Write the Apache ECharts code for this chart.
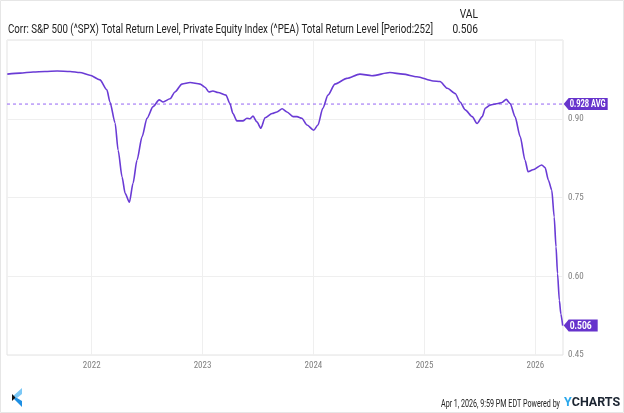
<!DOCTYPE html>
<html><head><meta charset="utf-8">
<script src="https://cdn.jsdelivr.net/npm/echarts@6/dist/echarts.min.js"></script>
<style>html,body{margin:0;padding:0;background:#fff}#c{width:624px;height:413px}</style>
</head><body><div id="c"></div>
<script>
const titleText = 'Corr: S&P 500 (^SPX) Total Return Level, Private Equity Index (^PEA) Total Return Level [Period:252]';
const valHeader = 'VAL';
const valText = '0.506';
const avgValue = 0.928;
const avgLabel = '0.928 AVG';
const footerText = 'Apr 1, 2026, 9:59 PM EDT Powered by';
const xMin = '2021-03-28';
const xMax = '2026-04-02';
const yMin = 0.45, yMax = 1.05, yInterval = 0.15;
const xTickYears = [2022, 2023, 2024, 2025, 2026];

const dates = [
 '2021-03-29','2021-05-10','2021-06-22','2021-07-31','2021-09-09','2021-10-22','2021-11-23','2021-12-26',
 '2022-01-28','2022-02-20','2022-03-02','2022-03-19','2022-03-29','2022-04-11','2022-04-21','2022-05-05',
 '2022-05-17','2022-05-30','2022-06-16','2022-07-02','2022-07-22','2022-08-11','2022-08-24','2022-09-16',
 '2022-10-02','2022-10-25','2022-11-21','2022-12-24',
 '2023-01-09','2023-01-22','2023-02-04','2023-02-21','2023-03-19','2023-04-01','2023-04-11','2023-04-24',
 '2023-05-14','2023-05-27','2023-06-06','2023-06-16','2023-06-29','2023-07-12','2023-07-26','2023-08-18',
 '2023-09-03','2023-09-20','2023-10-06','2023-10-26','2023-11-08','2023-11-24','2023-12-11',
 '2024-01-02','2024-01-16','2024-02-01','2024-02-18','2024-03-12','2024-04-20','2024-06-02','2024-07-12',
 '2024-09-09','2024-10-22','2024-12-07',
 '2025-01-29','2025-02-21','2025-03-17','2025-04-12','2025-04-28','2025-05-15','2025-06-07','2025-06-23',
 '2025-07-10','2025-07-20','2025-08-05','2025-08-31','2025-09-13','2025-09-27','2025-10-10','2025-10-26',
 '2025-11-12','2025-11-28','2025-12-08','2025-12-24',
 '2026-01-22','2026-02-02','2026-02-13','2026-02-24','2026-03-04','2026-03-10','2026-03-15','2026-03-21',
 '2026-03-26','2026-04-01'
];
const values = [
 0.985,0.987,0.989,0.990,0.991,0.990,0.988,0.983,
 0.974,0.955,0.932,0.892,0.840,0.789,0.758,0.741,
 0.777,0.821,0.866,0.901,0.923,0.936,0.932,0.938,
 0.951,0.966,0.969,0.966,
 0.960,0.951,0.953,0.950,0.945,0.929,0.910,0.896,
 0.896,0.901,0.900,0.905,0.894,0.882,0.902,0.910,
 0.913,0.919,0.913,0.904,0.904,0.901,0.888,
 0.878,0.888,0.920,0.945,0.966,0.977,0.985,0.982,
 0.988,0.985,0.980,
 0.972,0.971,0.958,0.948,0.932,0.917,0.904,0.891,
 0.904,0.920,0.926,0.929,0.931,0.937,0.929,0.904,
 0.866,0.821,0.799,0.803,
 0.812,0.807,0.783,0.764,0.713,0.656,0.605,0.554,
 0.528,0.506
];

const lineColor = '#6a3bd5';
const tagColor = '#6633cc';
const avgLineColor = '#9466f4';
const grey = '#808080';

function fitScale(text, font, target) {
  const ctx = document.createElement('canvas').getContext('2d');
  ctx.font = font;
  return target / ctx.measureText(text).width;
}
const titleFont = '12px Roboto';
const footFont = '10px Roboto';
const ycFont = 'bold 13px Roboto';
const tagFont = 'bold 10px Roboto';

const ts = d => Date.parse(d);
const lastDate = ts(dates[dates.length - 1]);
const lastValue = values[values.length - 1];
const yearTicks = xTickYears.map(y => ts(y + '-01-01'));

const chart = echarts.init(document.getElementById('c'), null, {renderer: 'canvas'});
const baseGraphics = [
  {type: 'rect', shape: {x: 0.5, y: 0.5, width: 623, height: 412}, style: {fill: 'none', stroke: '#e6e6e6', lineWidth: 1}, silent: true},
  {type: 'text', x: 8, y: 30, scaleX: fitScale(titleText, titleFont, 425),
    style: {text: titleText, font: titleFont, fill: '#222', verticalAlign: 'middle', align: 'left'}},
  {type: 'text', x: 478, y: 15, scaleX: 0.85,
    style: {text: valHeader, font: titleFont, fill: '#222', verticalAlign: 'middle', align: 'right'}},
  {type: 'text', x: 478, y: 30, scaleX: 0.85,
    style: {text: valText, font: titleFont, fill: '#222', verticalAlign: 'middle', align: 'right'}},
  {type: 'text', x: 441, y: 404, scaleX: fitScale(footerText, footFont, 119),
    style: {text: footerText, font: footFont, fill: '#222', verticalAlign: 'middle', align: 'left'}},
  {type: 'text', x: 564, y: 403, scaleX: fitScale('YCHARTS', ycFont, 56),
    style: {text: '{a|Y}{b|CHARTS}', font: ycFont, verticalAlign: 'middle', align: 'left',
      rich: {a: {fill: '#2aa8ec', font: ycFont}, b: {fill: '#1b2431', font: ycFont}}}},
  {type: 'polygon', shape: {points: [[12, 397], [22, 388], [22, 394], [17, 398]]}, style: {fill: '#7cc8f6'}},
  {type: 'polygon', shape: {points: [[12, 397], [17, 398], [22, 401], [22, 407]]}, style: {fill: '#1e8fe3'}},
  {type: 'polygon', shape: {points: [[12, 394], [15.5, 397.5], [12, 401]]}, style: {fill: '#111'}}
];

chart.setOption({
  animation: false,
  backgroundColor: '#fff',
  grid: {left: 7, right: 61, top: 40, bottom: 58, show: true, borderColor: '#e3e3e3', borderWidth: 1, backgroundColor: 'transparent'},
  xAxis: {
    type: 'value', min: ts(xMin), max: ts(xMax),
    axisLine: {show: false}, axisTick: {show: false, customValues: yearTicks},
    splitLine: {show: true, lineStyle: {color: '#efefef', width: 1}},
    axisLabel: {customValues: yearTicks, formatter: v => String(new Date(v).getUTCFullYear()),
      color: grey, fontFamily: "'Roboto Condensed','Liberation Sans Narrow',Roboto", fontSize: 9, margin: 6}
  },
  yAxis: {
    type: 'value', position: 'right', min: yMin, max: yMax, interval: yInterval,
    axisLine: {show: false}, axisTick: {show: false},
    splitLine: {show: true, lineStyle: {color: '#efefef', width: 1}},
    axisLabel: {showMaxLabel: false, formatter: v => v.toFixed(2), color: grey,
      fontFamily: "'Roboto Condensed','Liberation Sans Narrow',Roboto", fontSize: 9, margin: 5,
      padding: [0, 0, 8, 0]}
  },
  series: [{
    type: 'line', data: [[ts(xMin), avgValue], [ts(xMax), avgValue]],
    showSymbol: false, symbol: 'none', silent: true, z: 1,
    lineStyle: {color: avgLineColor, type: [3, 3], width: 1}, itemStyle: {color: avgLineColor}
  }, {
    type: 'line', data: dates.map((d, i) => [ts(d), values[i]]), z: 3,
    showSymbol: false, symbol: 'none', smooth: 0.25, smoothMonotone: 'x',
    lineStyle: {color: lineColor, width: 1.6}, itemStyle: {color: lineColor},
    markPoint: {
      silent: true,
      label: {show: false},
      data: [
        {coord: [lastDate, avgValue], symbol: 'path://M0,6 L5,0 L44,0 L44,12 L5,12 Z',
         symbolSize: [44, 12], symbolKeepAspect: false, symbolOffset: [23, 0],
         itemStyle: {color: tagColor}, label: {show: false}},
        {coord: [lastDate, lastValue], symbol: 'path://M0,6 L5,0 L34,0 L34,12 L5,12 Z',
         symbolSize: [34, 12], symbolKeepAspect: false, symbolOffset: [18, 0],
         itemStyle: {color: tagColor}, label: {show: false}}
      ]
    }
  }],
  graphic: baseGraphics
});

// tag texts, placed through the chart's own scales
const pAvg = chart.convertToPixel({gridIndex: 0}, [lastDate, avgValue]);
const pLast = chart.convertToPixel({gridIndex: 0}, [lastDate, lastValue]);
chart.setOption({
  graphic: baseGraphics.concat([
    {type: 'text', x: pAvg[0] + 7, y: pAvg[1] + 0.5, scaleX: fitScale(avgLabel, tagFont, 36), z: 100,
      style: {text: avgLabel, font: tagFont, fill: '#fff', verticalAlign: 'middle', align: 'left'}},
    {type: 'text', x: pLast[0] + 7, y: pLast[1] + 0.5, scaleX: fitScale(valText, tagFont, 22), z: 100,
      style: {text: valText, font: tagFont, fill: '#fff', verticalAlign: 'middle', align: 'left'}}
  ])
});
</script>
</body></html>
